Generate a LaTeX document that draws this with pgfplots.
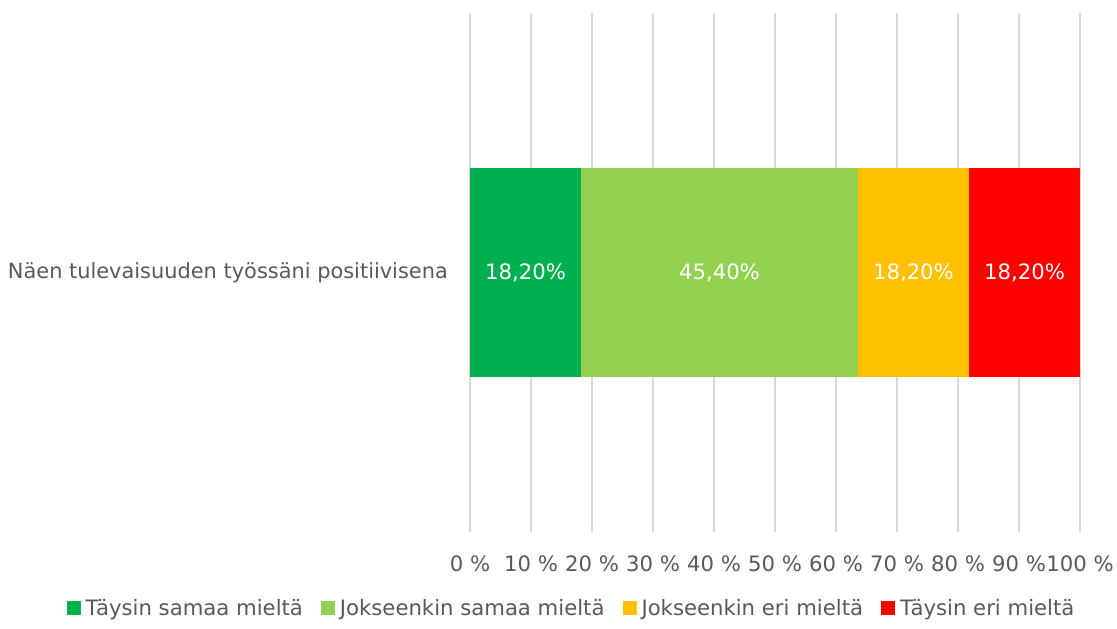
\documentclass[border=0pt]{standalone}
\usepackage{pgfplots}
\pgfplotsset{compat=1.18}
\usepackage{fontspec}
\setmainfont{DejaVu Sans}
\definecolor{cgreen}{HTML}{00B050}
\definecolor{clight}{HTML}{92D050}
\definecolor{cyellow}{HTML}{FFC000}
\definecolor{cred}{HTML}{FF0000}
\definecolor{cgrid}{HTML}{D9D9D9}
\definecolor{ctext}{HTML}{595959}
\newcommand{\cf}{\fontsize{21.2}{25}\selectfont}
\newcommand{\cfy}{\fontsize{20.9}{25}\selectfont}
\begin{document}
\begin{tikzpicture}
\useasboundingbox (0pt,0pt) rectangle (1117pt,-629pt);
\begin{axis}[
  at={(470pt,-532pt)}, anchor=south west,
  scale only axis, width=610pt, height=519pt,
  xbar stacked, bar width=209pt,
  xmin=0, xmax=100, ymin=-1, ymax=1,
  xtick={0,10,...,100},
  xticklabels={0 \%,10 \%,20 \%,30 \%,40 \%,50 \%,60 \%,70 \%,80 \%,90 \%,100 \%},
  ytick={0}, yticklabels={Näen tulevaisuuden työssäni positiivisena},
  xmajorgrids, major grid style={cgrid, line width=1.2pt},
  axis line style={draw=none}, major tick length=0pt,
  /pgf/number format/assume math mode=true,
  tick label style={font=\cf, text=ctext, inner sep=0pt},
  xticklabel style={anchor=north, yshift=-24pt},
  yticklabel style={anchor=east, xshift=-22pt, font=\cfy},
  point meta=explicit symbolic,
  nodes near coords,
  every node near coord/.append style={font=\cf, text=white, anchor=center},
  legend columns=4,
  legend style={draw=none, at={(0.1664,-0.146)}, anchor=center, font=\cf, text=ctext,
    /tikz/every odd column/.append style={column sep=3pt},
    /tikz/every even column/.append style={column sep=16pt}},
  legend image code/.code={\fill[#1] (0pt,-7pt) rectangle (14pt,7pt);},
]
\addplot[fill=cgreen, draw=none] coordinates {(18.2,0) [18,20\%]};
\addplot[fill=clight, draw=none] coordinates {(45.4,0) [45,40\%]};
\addplot[fill=cyellow, draw=none] coordinates {(18.2,0) [18,20\%]};
\addplot[fill=cred, draw=none] coordinates {(18.2,0) [18,20\%]};
\legend{Täysin samaa mieltä, Jokseenkin samaa mieltä, Jokseenkin eri mieltä, Täysin eri mieltä}
\end{axis}
\end{tikzpicture}
\end{document}
